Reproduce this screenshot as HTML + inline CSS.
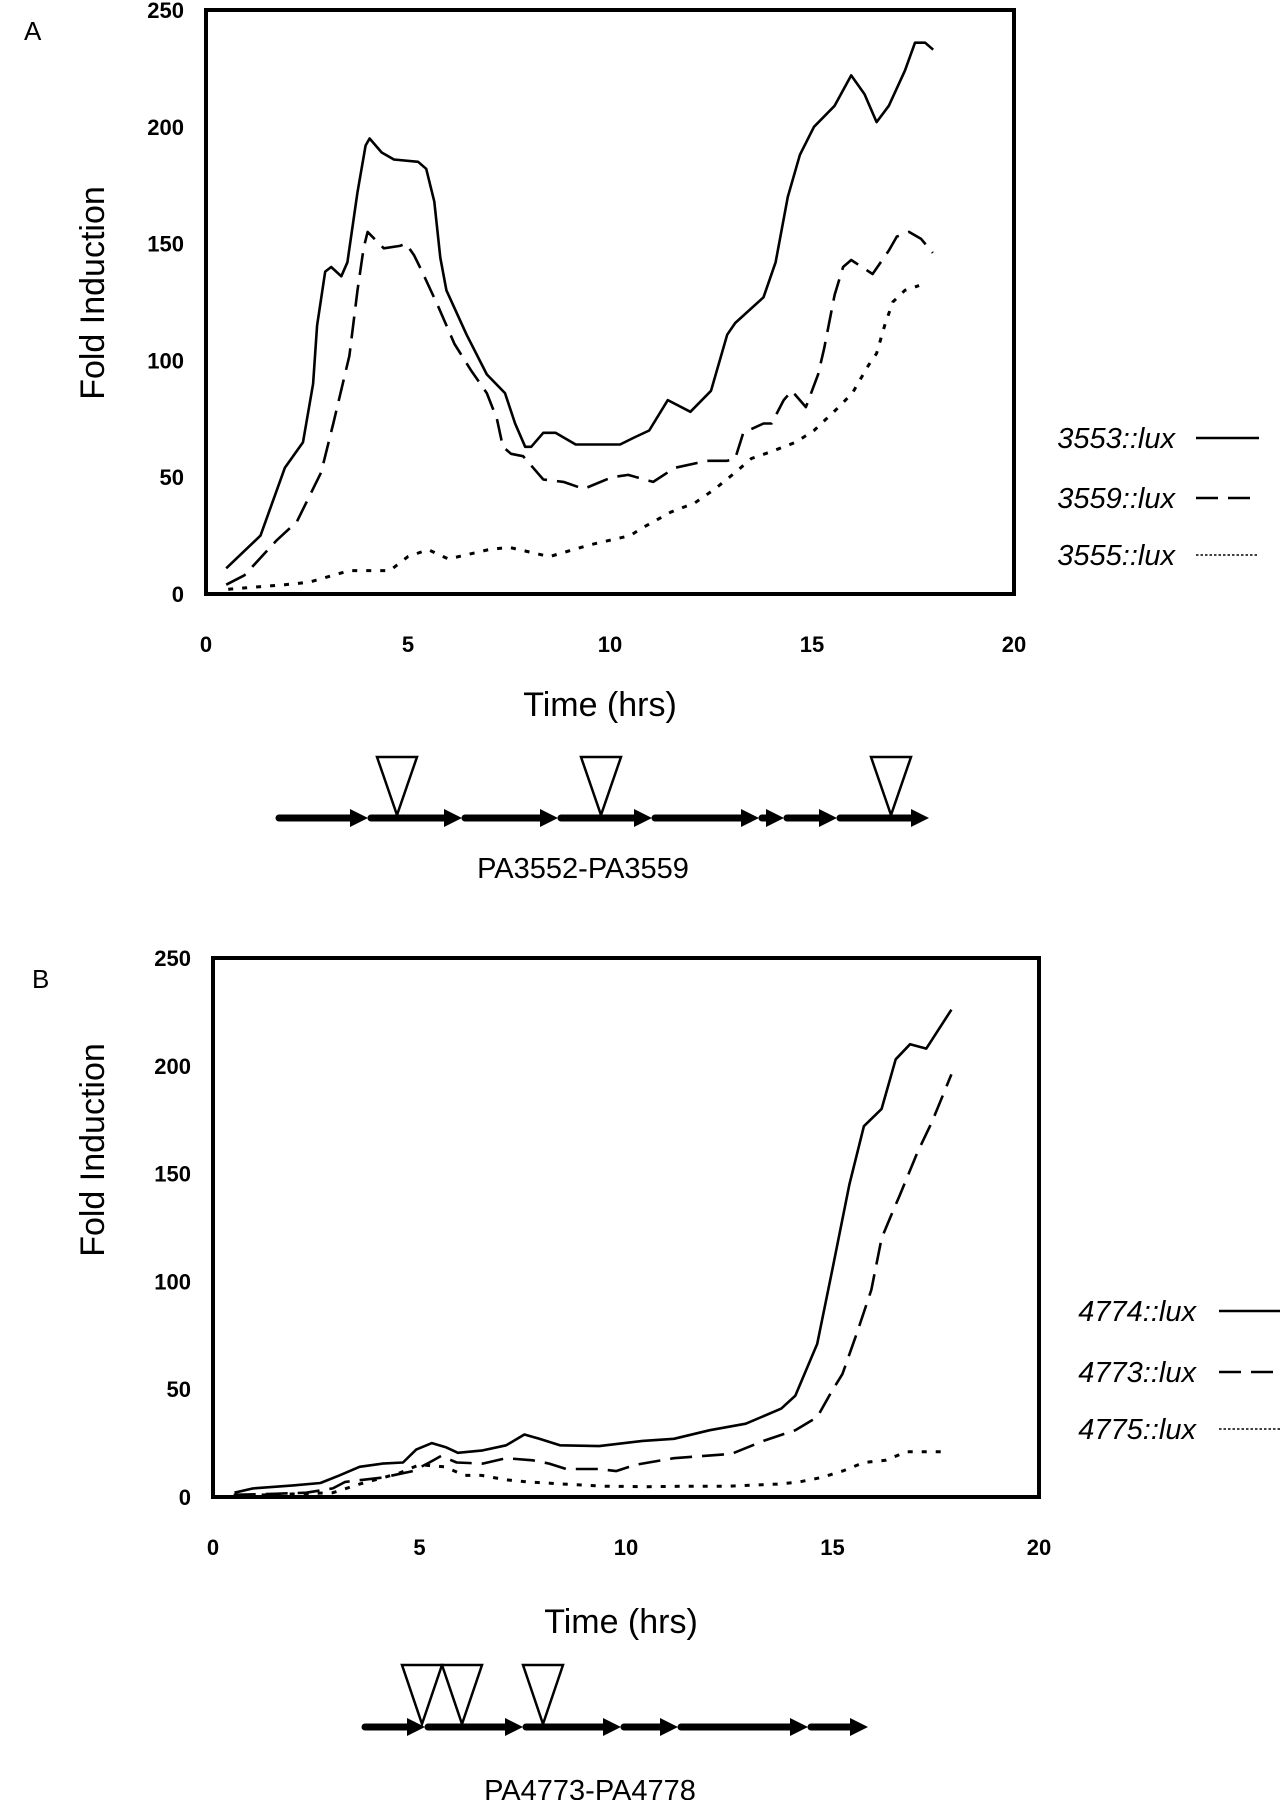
<!DOCTYPE html>
<html><head><meta charset="utf-8"><style>
html,body{margin:0;padding:0;background:#fff;}
svg{display:block;}
.tick{font-family:"Liberation Sans",sans-serif;font-weight:bold;font-size:22px;}
.title{font-family:"Liberation Sans",sans-serif;font-size:34px;}
.leg{font-family:"Liberation Sans",sans-serif;font-style:italic;font-size:29px;}
.gene{font-family:"Liberation Sans",sans-serif;font-size:29px;}
</style></head><body>
<svg id="fig" width="1282" height="1800" viewBox="0 0 1282 1800" xmlns="http://www.w3.org/2000/svg">
<text x="24" y="40" class="title" style="font-size:26px">A</text>
<text x="32" y="988" class="title" style="font-size:26px">B</text>
<g id="chartA"></g>
<g id="chartB"></g>
<g id="geneA"></g>
<g id="geneB"></g>
<text x="583" y="878" text-anchor="middle" class="gene">PA3552-PA3559</text>
<text x="590" y="1800" text-anchor="middle" class="gene">PA4773-PA4778</text>
</svg>
<script>
// ---- Data ----
const xTicks = [0,5,10,15,20];
const yTicks = [0,50,100,150,200,250];
const seriesNamesA = ["3553::lux","3559::lux","3555::lux"];
const seriesNamesB = ["4774::lux","4773::lux","4775::lux"];
const a3553x = [0.5,1.35,1.95,2.4,2.65,2.75,2.95,3.1,3.35,3.5,3.75,3.95,4.05,4.35,4.65,5.25,5.45,5.65,5.8,5.95,6.45,6.95,7.4,7.65,7.9,8.05,8.35,8.65,9.15,10.25,10.6,10.97,11.43,11.99,12.5,12.9,13.1,13.8,14.1,14.4,14.7,15.05,15.56,15.97,16.3,16.6,16.9,17.3,17.55,17.8,18.0];
const a3553y = [11,25,54,65,90,115,138,140,136,142,172,192,195,189,186,185,182,168,144,130,111,94,86,73,63,63,69,69,64,64,67,70,83,78,87,111,116,127,142,170,188,200,209,222,214,202,209,224,236,236,233];
const a3559x = [0.5,0.95,1.75,2.25,2.85,3.15,3.55,3.75,3.9,4.0,4.4,4.8,4.95,5.15,5.35,5.75,6.15,6.55,6.95,7.2,7.35,7.55,7.85,8.35,8.85,9.35,10.05,10.45,11.07,11.6,12.4,12.9,13.1,13.3,13.8,14.0,14.3,14.5,14.85,15.15,15.3,15.56,15.77,15.97,16.5,16.9,17.1,17.4,17.7,17.99];
const a3559y = [4,8,23,31,52,73,102,130,148,155,148,149,150,145,138,123,107,96,86,75,63,60,59,49,48,45,50,51,48,54,57,57,58,69,73,73,83,87,80,94,105,128,140,143,137,147,153,155,152,146];
const a3555x = [0.55,1.95,2.55,3.55,4.55,5.0,5.5,6.0,7.0,7.5,8.5,9.5,10.5,10.77,11.5,12.1,12.6,13.1,13.5,14.0,14.6,15.05,15.6,16.0,16.4,16.6,16.8,17.0,17.3,17.65];
const a3555y = [2,4,5,10,10,16,19,15,19,20,16,21,25,28,35,39,45,52,58,61,65,70,79,86,98,103,115,125,130,132];
const b4774x = [0.52,0.97,1.94,2.6,3.06,3.55,4.1,4.6,4.92,5.3,5.65,5.93,6.53,7.1,7.54,7.9,8.4,9.35,10.4,11.16,12.03,12.9,13.76,14.1,14.63,14.98,15.41,15.76,16.19,16.53,16.88,17.27,17.88];
const b4774y = [2,4,5.4,6.5,10,14,15.5,16,22,25,23,20.5,21.6,24,29,27,24,23.6,26,27,31,34,41,47,71,104,145,172,180,203,210,208,226];
const b4773x = [0.5,1.5,2.26,2.9,3.2,4.1,4.84,5.24,5.52,5.9,6.53,7.1,7.74,8.14,8.55,9.35,9.76,10.24,11.16,12.55,13.33,14.1,14.63,14.98,15.24,15.59,15.94,16.19,16.45,16.63,17.06,17.41,17.88];
const b4773y = [1,1.5,2,4,7,9,12,16,19,16,15.5,18,17,15.5,13,13,12,15,18,20,26,31,37,49,57,76,96,120,132,140,160,174,196];
const b4775x = [0.5,2.9,3.55,4.5,5.0,5.6,6.1,6.5,7.1,7.6,8.0,8.5,9.5,10.5,11.5,12.46,13.67,14.2,14.72,15.24,15.76,16.28,16.8,17.7];
const b4775y = [0.5,2,6,11,15,14,10,10,8,7,6.6,6,5,4.8,5,5,6,7,9,12,16,17,21,21];

const NS="http://www.w3.org/2000/svg";
function mk(tag, attrs, parent){const e=document.createElementNS(NS,tag);for(const k in attrs)e.setAttribute(k,attrs[k]);parent.appendChild(e);return e;}
const styles=[{dash:null},{dash:"22 10"},{dash:"5 9"}];

function drawChart(g, box, series, names, leg, yTitle, xTitle){
  const sx=v=>box.l+(v/20)*(box.r-box.l);
  const sy=v=>box.b-(v/250)*(box.b-box.t);
  const frame=mk("rect",{x:box.l,y:box.t,width:box.r-box.l,height:box.b-box.t,fill:"none",stroke:"#000","stroke-width":4},g);
  
  
  yTicks.forEach(v=>{
    const t=mk("text",{x:box.l-22,y:sy(v)+8,"text-anchor":"end",class:"tick"},g);
    t.textContent=v;
    
    
  });
  xTicks.forEach(v=>{
    const t=mk("text",{x:sx(v),y:box.b+58,"text-anchor":"middle",class:"tick"},g);
    t.textContent=v;
    
    
  });
  const yt=mk("text",{x:0,y:0,"text-anchor":"middle",class:"title",transform:`translate(${yTitle[0]+12},${yTitle[1]}) rotate(-90)`},g);
  yt.textContent="Fold Induction";
  
  
  const xt=mk("text",{x:xTitle[0],y:xTitle[1]+12,"text-anchor":"middle",class:"title"},g);
  xt.textContent="Time (hrs)";
  
  
  series.forEach((s,i)=>{
    let d="";
    s[0].forEach((x,j)=>{d+=(j?"L":"M")+sx(x).toFixed(1)+","+sy(s[1][j]).toFixed(1);});
    const a={d:d,fill:"none",stroke:"#000","stroke-width":i==2?3:2.6,"stroke-linejoin":"round"};
    if(styles[i].dash)a["stroke-dasharray"]=styles[i].dash;
    const p=mk("path",a,g);
    
    
    const lt=mk("text",{x:leg.tx,y:leg.ys[i]+10,"text-anchor":"end",class:"leg"},g);
    lt.textContent=names[i];
    
    
    const la={x1:leg.l1,x2:leg.l2,y1:leg.ys[i],y2:leg.ys[i],stroke:"#000","stroke-width":i==2?1.6:2.4};
    if(i==1)la["stroke-dasharray"]="22 10";
    if(i==2)la["stroke-dasharray"]="2.5 2";
    const ll=mk("line",la,g);
    
    
  });
}
drawChart(document.getElementById("chartA"),{l:206,r:1014,t:10,b:594},
  [[a3553x,a3553y],[a3559x,a3559y],[a3555x,a3555y]],seriesNamesA,
  {tx:1175,ys:[438,498,555],l1:1196,l2:1259},[92,293],[600,704]);
drawChart(document.getElementById("chartB"),{l:213,r:1039,t:958,b:1497},
  [[b4774x,b4774y],[b4773x,b4773y],[b4775x,b4775y]],seriesNamesB,
  {tx:1196,ys:[1311,1372,1429],l1:1219,l2:1280},[92,1150],[621,1621]);

function drawGene(g, xs, y, tris, top){
  for(let i=0;i<xs.length-1;i++){
    const x1=xs[i]+3, x2=xs[i+1];
    const ln=mk("line",{x1:x1,y1:y,x2:x2-14,y2:y,stroke:"#000","stroke-width":7,"stroke-linecap":"round"},g);
    
    
    const hd=mk("polygon",{points:`${x2-18},${y-9} ${x2},${y} ${x2-18},${y+9}`,fill:"#000"},g);
    
    
  }
  tris.forEach(tx=>{
    const t=mk("polygon",{points:`${tx-20},${top} ${tx+20},${top} ${tx},${y-3}`,fill:"#fff",stroke:"#000","stroke-width":2.5},g);
    
    
  });
}
drawGene(document.getElementById("geneA"),[276,368,462,558,652,759,784,837,929],818,[397,601,891],757);
drawGene(document.getElementById("geneB"),[362,425,523,621,678,808,868],1727,[422,462,543],1665);
</script>
</body></html>
